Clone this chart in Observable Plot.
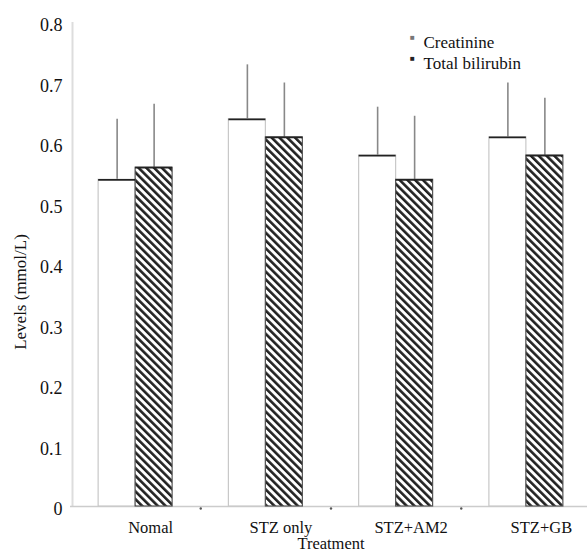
<!DOCTYPE html>
<html><head><meta charset="utf-8">
<script src="https://cdn.jsdelivr.net/npm/d3@7"></script>
<script src="https://cdn.jsdelivr.net/npm/@observablehq/plot@0.6"></script>
<style>
body{margin:0;background:#fff;}
svg{display:block;background:#fff}
svg text{font-family:"Liberation Serif","DejaVu Serif",serif !important;}
</style>
</head><body><div id="chart"></div>
<script>
const categories = ["Nomal", "STZ only", "STZ+AM2", "STZ+GB"];
const seriesNames = ["Creatinine", "Total bilirubin"];
const creatinine = [0.54, 0.64, 0.58, 0.61];
const creatinineErr = [0.10, 0.09, 0.08, 0.09];
const bilirubin = [0.56, 0.61, 0.54, 0.58];
const bilirubinErr = [0.105, 0.09, 0.105, 0.095];
const yTicks = [0, 0.1, 0.2, 0.3, 0.4, 0.5, 0.6, 0.7, 0.8];
const xTitle = "Treatment";
const yTitle = "Levels (mmol/L)";

const rows = [];
categories.forEach((c, i) => {
  rows.push({cat: c, i, s: 0, value: creatinine[i], err: creatinineErr[i]});
  rows.push({cat: c, i, s: 1, value: bilirubin[i], err: bilirubinErr[i]});
});
const BW = 0.284;
const bx1 = d => d.i + 0.5 + (d.s - 1) * BW;
const bx2 = d => d.i + 0.5 + d.s * BW;
const bxc = d => d.i + 0.5 + (d.s - 0.5) * BW;
const font = '"Liberation Serif", "DejaVu Serif", serif';

const chart = Plot.plot({
  width: 587, height: 555,
  marginTop: 0, marginRight: 0, marginBottom: 0, marginLeft: 0,
  x: {type: "linear", domain: [0, categories.length], range: [70, 591], axis: null},
  y: {domain: [0, 0.8], range: [506, 22], axis: null},
  style: {fontFamily: font, fontSize: "17px", color: "#111", background: "#fff"},
  marks: [
    Plot.ruleX([0], {y1: 0, y2: 0.8, stroke: "#ddd", strokeWidth: 2, dx: 2}),
    Plot.ruleY([0], {x1: 0, x2: categories.length, stroke: "#ccc", strokeWidth: 1.5}),
    Plot.dot(d3.range(1, categories.length), {x: d => d, y: 0, r: 1.2, fill: "#555", stroke: null, dy: 2}),
    Plot.ruleX(rows, {x: bxc, y1: "value", y2: d => d.value + d.err, stroke: "#888", strokeWidth: 1.6}),
    Plot.rect(rows.filter(d => d.s === 0), {x1: bx1, x2: bx2, y1: 0, y2: "value", fill: "white", stroke: "#c8c8c8", strokeWidth: 1.2}),
    Plot.rect(rows.filter(d => d.s === 1), {x1: bx1, x2: bx2, y1: 0, y2: "value", fill: "url(#hatch)", stroke: "#555", strokeWidth: 1.2}),
    Plot.ruleY(rows, {y: "value", x1: bx1, x2: bx2, stroke: "#222", strokeWidth: 1.8}),
    Plot.text(yTicks, {x: 0, y: d => d, text: d => d === 0 ? "0" : d.toFixed(1), textAnchor: "end", dx: -8, dy: 3, fontSize: 18, fontFamily: font}),
    Plot.text(categories, {x: (d, i) => i + 0.5, y: 0, dx: 15, dy: 21, fontSize: 16.5, fontFamily: font}),
    Plot.text([xTitle], {x: categories.length / 2, y: 0, dy: 37, fontSize: 16.5, fontFamily: font}),
    Plot.text([yTitle], {frameAnchor: "left", dx: 20, dy: 14, rotate: -90, textAnchor: "middle", fontSize: 17, fontFamily: font}),
    Plot.text([seriesNames[0]], {frameAnchor: "top-right", textAnchor: "start", dx: -164, dy: 35, fontSize: 17, fontFamily: font}),
    Plot.text([seriesNames[1]], {frameAnchor: "top-right", textAnchor: "start", dx: -164, dy: 56, fontSize: 17, fontFamily: font}),
    Plot.text(["\u25A0"], {frameAnchor: "top-right", textAnchor: "middle", dx: -175, dy: 34, fontSize: 8, fill: "#777"}),
    Plot.text(["\u25A0"], {frameAnchor: "top-right", textAnchor: "middle", dx: -175, dy: 55, fontSize: 8, fill: "#222"})
  ]
});

d3.select(chart).insert("defs", ":first-child").html(
  '<pattern id="hatch" patternUnits="userSpaceOnUse" width="5.5" height="5.5" patternTransform="rotate(-45)">' +
  '<rect width="5.5" height="5.5" fill="white"/><rect x="0" y="0" width="2.6" height="5.5" fill="#222"/></pattern>'
);
document.getElementById("chart").appendChild(chart);
</script>
</body></html>
